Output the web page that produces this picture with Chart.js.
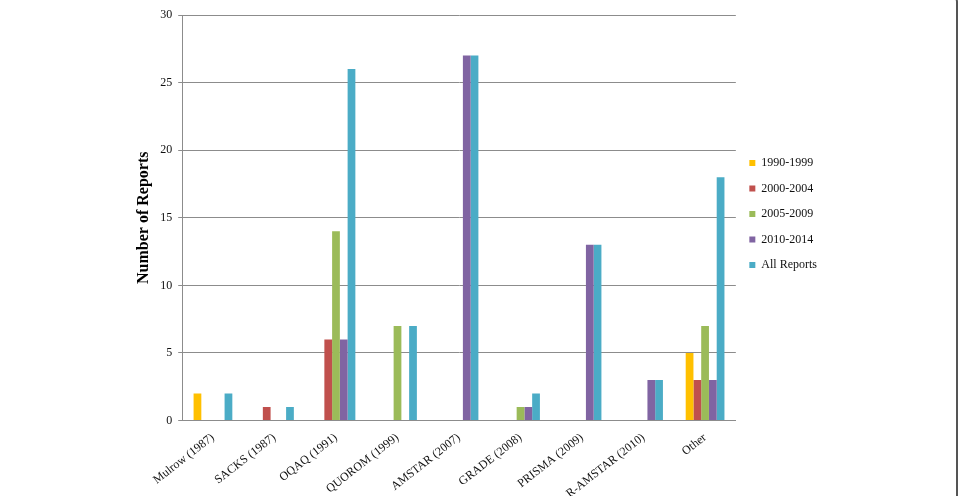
<!DOCTYPE html>
<html lang="en">
<head>
  <meta charset="UTF-8">
  <title>Reporting Guidelines by Period</title>
  <script src="https://cdn.jsdelivr.net/npm/chart.js"></script>
  <style>
    html, body {
      margin: 0;
      padding: 0;
      background: #fff;
      overflow: hidden;
    }
    #wrap {
      position: relative;
      width: 959px;
      height: 496px;
      overflow: hidden;
    }
    #box {
      position: absolute;
      left: 0;
      top: 0;
      width: 959px;
      height: 503px;
    }
    .frame {
      position: absolute;
      right: 1px;
      top: -6px;
      width: 40px;
      height: 520px;
      border-right: 2px solid #555;
      border-top: 2px solid #555;
      border-top-right-radius: 8px;
    }
  </style>
</head>
<body>
  <div id="wrap">
    <div id="box"><canvas id="chart"></canvas></div>
    <div class="frame"></div>
  </div>

  <script>
    const categories = ["Mulrow (1987)", "SACKS (1987)", "OQAQ (1991)", "QUOROM (1999)", "AMSTAR (2007)",
                        "GRADE (2008)", "PRISMA (2009)", "R-AMSTAR (2010)", "Other"];
    const seriesNames = ["1990-1999", "2000-2004", "2005-2009", "2010-2014", "All Reports"];
    const p1990 = [2, 0, 0, 0, 0, 0, 0, 0, 5];
    const p2000 = [0, 1, 6, 0, 0, 0, 0, 0, 3];
    const p2005 = [0, 0, 14, 7, 0, 1, 0, 0, 7];
    const p2010 = [0, 0, 6, 0, 27, 1, 13, 3, 3];
    const allReports = [2, 1, 26, 7, 27, 2, 13, 3, 18];
    const yTicks = [0, 5, 10, 15, 20, 25, 30];

    const colors = ["#FFC000", "#C0504D", "#9BBB59", "#8064A2", "#4BACC6"];
    const values = [p1990, p2000, p2005, p2010, allReports];

    const serif = "'Liberation Serif', 'Times New Roman', serif";

    new Chart(document.getElementById("chart"), {
      type: "bar",
      data: {
        labels: categories,
        datasets: seriesNames.map((name, i) => ({
          label: name,
          data: values[i],
          backgroundColor: colors[i],
          borderWidth: 0,
          barPercentage: 1.0,
          categoryPercentage: 0.63
        }))
      },
      options: {
        responsive: true,
        maintainAspectRatio: false,
        animation: false,
        layout: {
          padding: { left: 134, right: 132, top: 15, bottom: 0 }
        },
        plugins: {
          legend: {
            position: "right",
            align: "start",
            // empty title only pushes the items down to where they sit in the original
            title: { display: true, text: " ", padding: 57, font: { size: 12 } },
            labels: {
              boxWidth: 6,
              boxHeight: 6,
              padding: 13.5,
              color: "#111",
              font: { family: serif, size: 12 }
            }
          },
          tooltip: { enabled: false }
        },
        scales: {
          x: {
            grid: { display: false },
            border: { display: true, color: "#8c8c8c" },
            ticks: {
              minRotation: 38,
              maxRotation: 38,
              padding: 2,
              color: "#111",
              font: { family: serif, size: 12 }
            }
          },
          y: {
            min: 0,
            max: 30,
            afterBuildTicks: (axis) => { axis.ticks = yTicks.map(v => ({ value: v })); },
            grid: { color: "#8c8c8c", tickLength: 4 },
            border: { display: true, color: "#8c8c8c" },
            ticks: {
              padding: 6,
              color: "#111",
              font: { family: serif, size: 12 }
            },
            title: {
              display: true,
              text: "Number of Reports",
              color: "#000",
              padding: { top: 0, bottom: 1 },
              font: { family: serif, size: 16, weight: "bold" }
            }
          }
        }
      }
    });
  </script>
</body>
</html>
